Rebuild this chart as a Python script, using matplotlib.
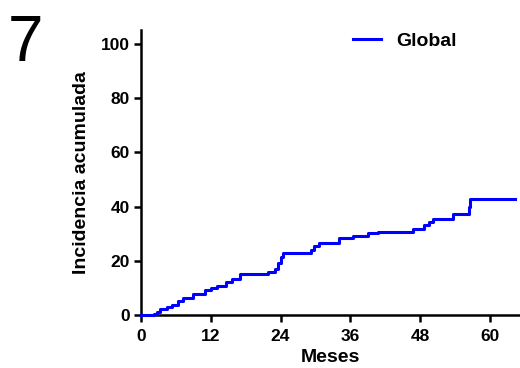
import matplotlib.pyplot as plt

# step curve: month of each event and cumulative incidence after it
months = [0, 2.2, 2.7, 3.3, 4.4, 5.3, 6.4, 7.3, 9.0, 11.0, 12.1, 13.0, 14.7,
          15.6, 17.0, 21.9, 23.0, 23.6, 24.0, 24.4, 29.3, 29.8, 30.6, 34.0,
          36.4, 39.0, 40.8, 46.7, 48.6, 49.5, 50.2, 53.7, 56.4, 56.6, 64.4]
incidence = [0, 0.5, 1.0, 2.2, 3.1, 3.7, 5.3, 6.1, 7.7, 9.2, 10.1, 10.8, 12.3,
             13.2, 15.0, 15.8, 16.9, 19.0, 21.5, 23.0, 23.8, 25.5, 26.7, 28.3,
             29.2, 30.1, 30.7, 31.7, 33.2, 34.3, 35.4, 37.3, 40.0, 42.8, 42.8]
x_ticks = [0, 12, 24, 36, 48, 60]
y_ticks = [0, 20, 40, 60, 80, 100]

plt.rcParams['font.family'] = ['Liberation Sans', 'DejaVu Sans']

fig = plt.figure(figsize=(5.2, 3.68), dpi=100)
ax = fig.add_axes([0.271, 0.144, 0.727, 0.774])

ax.step(months, incidence, where="post", color="#0000ff", lw=2.2,
        label="Global", zorder=5, clip_on=False)

ax.set_xlim(0, 65)
ax.set_ylim(0, 105)
ax.set_xticks(x_ticks)
ax.set_yticks(y_ticks)
for s in ["top", "right"]:
    ax.spines[s].set_visible(False)
for s in ["left", "bottom"]:
    ax.spines[s].set_linewidth(1.8)
ax.tick_params(width=1.8, length=5, labelsize=12.5)
ax.tick_params(axis="x", pad=5)
ax.tick_params(axis="y", pad=3)
for lbl in ax.get_xticklabels() + ax.get_yticklabels():
    lbl.set_fontweight("bold")

ax.set_xlabel("Meses", fontsize=14, fontweight="bold", labelpad=4)
ax.set_ylabel("Incidencia acumulada", fontsize=14, fontweight="bold", labelpad=8)

leg = ax.legend(loc="upper left", bbox_to_anchor=(0.516, 1.055), frameon=False,
                prop={"weight": "bold", "size": 14}, handlelength=1.4,
                handletextpad=0.8)

fig.text(0.015, 0.835, "7", fontsize=46)

plt.savefig("out.png")
plt.close()
